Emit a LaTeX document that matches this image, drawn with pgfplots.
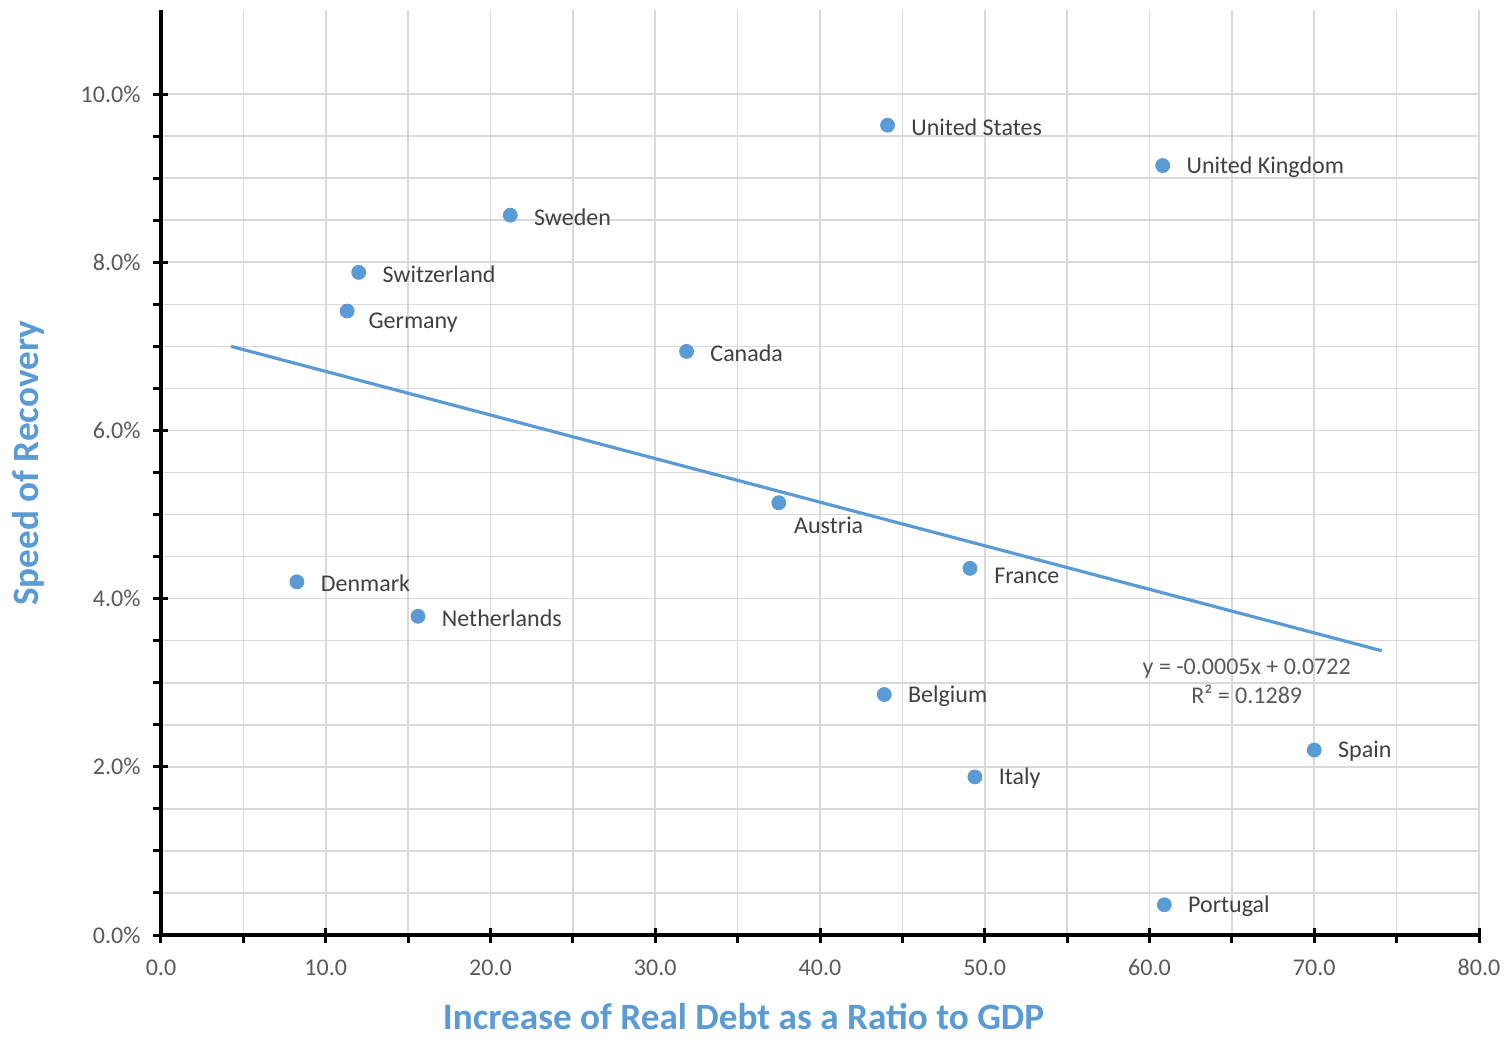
\documentclass[border=0pt]{standalone}
\usepackage{pgfplots}
\pgfplotsset{compat=1.18}
\usepackage{fontspec}
\setmainfont{Carlito}
\definecolor{dotblue}{HTML}{5B9BD5}
\definecolor{txtgrey}{HTML}{595959}
\definecolor{lblgrey}{HTML}{404040}
\definecolor{gridgrey}{HTML}{D9D9D9}
\begin{document}
\begin{tikzpicture}[font=\rmfamily]
% 1 px of the reference = 0.5pt
\path[use as bounding box] (-80.5pt,-52pt) rectangle (673pt,467.5pt);
\begin{axis}[
  scale only axis, width=659pt, height=462.5pt,
  xmin=0, xmax=80, ymin=0, ymax=11,
  axis x line*=bottom, axis y line*=left,
  axis line style={line width=1.6pt, black},
  xtick={0,10,...,80}, ytick={0,2,...,10},
  minor x tick num=1, minor y tick num=3,
  grid=both, grid style={gridgrey, line width=0.8pt},
  major grid style={gridgrey, line width=0.8pt},
  minor grid style={gridgrey, line width=0.8pt},
  tick align=center, major tick length=7.5pt, minor tick length=5pt,
  tick style={black, line width=1.5pt},
  minor y tick style={xshift=-1.25pt},
  minor x tick style={yshift=-1.25pt},
  /pgf/number format/assume math mode=true,
  ticklabel style={font=\fontsize{12}{14}\selectfont, text=txtgrey},
  x tick label style={/pgf/number format/.cd, fixed, fixed zerofill, precision=1},
  xticklabel shift=5pt,
  yticklabel={\pgfmathprintnumber[fixed,fixed zerofill,precision=1]{\tick}\%},
  yticklabel shift=3pt,
  xlabel={Increase of Real Debt as a Ratio to GDP},
  ylabel={Speed of Recovery},
  xlabel style={at={(axis description cs:0.442,-0.088)}, anchor=center,
    font=\fontsize{18.6}{22}\selectfont\bfseries, text=dotblue},
  ylabel style={at={(axis description cs:-0.101,0.51)}, anchor=center,
    font=\fontsize{18.6}{22}\selectfont\bfseries, text=dotblue},
  clip=false,
  every node near coord/.append style={anchor=west, inner sep=0pt,
    font=\fontsize{12}{14}\selectfont, text=lblgrey},
]
% trendline (Excel linear fit), extended 4 units past the data
\addplot[dotblue, line width=1.6pt] coordinates {(4.25,7.00) (74.1,3.38)};

\addplot[only marks, mark=*, mark size=3.5pt, dotblue,
  nodes near coords, point meta=explicit symbolic,
  every node near coord/.append style={xshift=11.75pt, yshift=-0.8pt}]
  coordinates {
  (44.1,9.63) [United States]
  (60.8,9.15) [United Kingdom]
  (21.2,8.56) [Sweden]
  (12.0,7.88) [Switzerland]
  (31.9,6.94) [Canada]
  (8.25,4.20) [Denmark]
  (15.6,3.79) [Netherlands]
  (43.9,2.86) [Belgium]
  (70.0,2.20) [Spain]
  (49.4,1.88) [Italy]
  (60.9,0.36) [Portugal]
  };
\addplot[only marks, mark=*, mark size=3.5pt, dotblue,
  nodes near coords, point meta=explicit symbolic,
  every node near coord/.append style={xshift=10.5pt, yshift=-6pt}]
  coordinates {(11.3,7.42) [Germany]};
\addplot[only marks, mark=*, mark size=3.5pt, dotblue,
  nodes near coords, point meta=explicit symbolic,
  every node near coord/.append style={xshift=7.5pt, yshift=-11.5pt}]
  coordinates {(37.5,5.14) [Austria]};
\addplot[only marks, mark=*, mark size=3.5pt, dotblue,
  nodes near coords, point meta=explicit symbolic,
  every node near coord/.append style={xshift=12pt, yshift=-4pt}]
  coordinates {(49.1,4.36) [France]};

\node[align=center, text=txtgrey, font=\fontsize{12}{14.5}\selectfont]
  at (axis cs:65.9,3.02) {y = -0.0005x + 0.0722\\R² = 0.1289};
\end{axis}
\end{tikzpicture}
\end{document}
